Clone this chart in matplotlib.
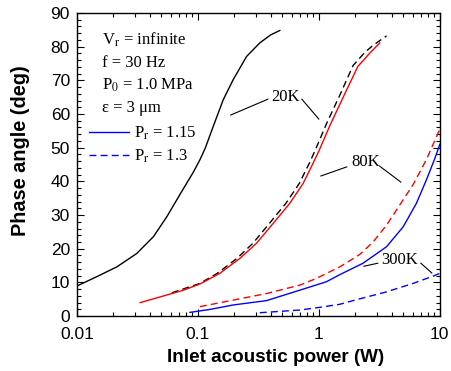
import matplotlib
matplotlib.use("Agg")
import matplotlib.pyplot as plt
from matplotlib.lines import Line2D

plt.rcParams['mathtext.fontset'] = 'stix'

# 20K curves (black)
k20_x_115 = [0.0100, 0.0146, 0.0214, 0.0313, 0.0430, 0.0554, 0.0714, 0.092, 0.104, 0.115,
             0.134, 0.162, 0.196, 0.253, 0.325, 0.400, 0.476]
k20_y_115 = [8.9, 11.7, 14.6, 18.6, 23.6, 29.5, 36.2, 42.8, 46.4, 49.8,
             56.3, 64.2, 70.2, 77.1, 81.1, 83.5, 84.8]
k20_x_13 = [0.061, 0.081, 0.104, 0.145, 0.21, 0.285, 0.39, 0.535, 0.69, 0.835, 0.94,
            1.17, 1.50, 1.92, 2.40, 2.81, 3.63]
k20_y_13 = [6.9, 8.4, 9.7, 12.7, 17.1, 21.6, 27.5, 33.5, 39.4, 45.4, 49.5,
            57.5, 65.8, 74.4, 78.3, 80.4, 83.2]

# 80K curves (red)
k80_x_115 = [0.0334, 0.0488, 0.0762, 0.105, 0.152, 0.222, 0.305, 0.419, 0.576, 0.742, 0.897,
             1.00, 1.25, 1.60, 2.10, 2.64, 3.19]
k80_y_115 = [4.0, 5.7, 7.7, 9.6, 12.7, 17.1, 21.6, 27.5, 33.5, 39.4, 45.4,
             49.0, 57.0, 65.2, 74.1, 78.1, 81.1]
k80_x_13 = [0.104, 0.196, 0.37, 0.697, 0.957, 1.49, 2.18, 2.81, 3.63, 4.67, 6.01, 7.76, 10.0]
k80_y_13 = [2.8, 4.75, 6.7, 9.2, 11.2, 14.6, 18.3, 22.0, 27.0, 33.0, 39.0, 46.5, 55.5]

# 300K curves (blue)
k300_x_115 = [0.086, 0.127, 0.196, 0.37, 0.697, 1.156, 1.49, 2.32, 3.63, 4.98, 6.41, 7.76, 9.1, 10.0]
k300_y_115 = [1.1, 2.0, 3.3, 4.6, 7.7, 10.2, 12.3, 15.7, 20.6, 26.5, 33.5, 40.5, 46.8, 51.0]
k300_x_13 = [0.325, 0.697, 1.02, 1.49, 1.92, 3.63, 6.01, 9.0, 10.0]
k300_y_13 = [1.0, 1.8, 2.6, 3.5, 4.6, 7.2, 9.7, 12.0, 12.7]

info_lines = [r"V$_\mathrm{r}$ = infinite", "f = 30 Hz", r"P$_\mathrm{0}$ = 1.0 MPa", "ε = 3 μm"]
legend_labels = [r"P$_\mathrm{r}$ = 1.15", r"P$_\mathrm{r}$ = 1.3"]

fig = plt.figure(figsize=(4.52, 3.71), dpi=100)
ax = fig.add_axes([0.170, 0.148, 0.803, 0.817])

dash = (0, (5, 3))
ax.plot(k20_x_115, k20_y_115, color='black', lw=1)
ax.plot(k20_x_13, k20_y_13, color='black', lw=1, ls=dash)
ax.plot(k80_x_115, k80_y_115, color='red', lw=1)
ax.plot(k80_x_13, k80_y_13, color='red', lw=1, ls=dash)
ax.plot(k300_x_115, k300_y_115, color='blue', lw=1)
ax.plot(k300_x_13, k300_y_13, color='blue', lw=1, ls=dash)

ax.set_xscale('log')
ax.set_xlim(0.01, 10)
ax.set_ylim(0, 90)
ax.set_yticks(range(0, 91, 10))
ax.set_yticks(range(0, 91, 2), minor=True)
ax.set_xticks([0.01, 0.1, 1, 10])
ax.set_xticklabels(['0.01', '0.1', '1', '10'])
ax.tick_params(which='both', direction='in', top=True, right=True,
               labelsize=12.5, width=0.8)
ax.tick_params(which='major', length=5)
ax.tick_params(which='minor', length=3)
ax.tick_params(axis='x', pad=8)
ax.tick_params(axis='y', pad=5)
for lab in ax.get_xticklabels() + ax.get_yticklabels():
    lab.set_family('Liberation Sans')
for s in ax.spines.values():
    s.set_linewidth(1.0)

ax.set_xlabel('Inlet acoustic power (W)', family='Liberation Sans',
              fontweight='bold', fontsize=13.6)
ax.set_ylabel('Phase angle (deg)', family='Liberation Sans',
              fontweight='bold', fontsize=14.3)
ax.xaxis.set_label_coords(0.548, -0.108)
ax.yaxis.set_label_coords(-0.13, 0.545)

for i, t in enumerate(info_lines):
    ax.text(0.069, 0.911 - i * 0.075, t, transform=ax.transAxes,
            family='Liberation Serif', fontsize=12, va='center')

handles = [Line2D([], [], color='blue', lw=1),
           Line2D([], [], color='blue', lw=1, ls=dash)]
ax.legend(handles, legend_labels, loc='upper left', bbox_to_anchor=(0.0, 0.67),
          frameon=False, prop={'family': 'Liberation Serif', 'size': 12},
          handlelength=2.4, handletextpad=0.3, labelspacing=0.35, borderaxespad=0.3)

# curve labels with leader lines
ax.text(0.534, 65, '20K', family='Liberation Serif', fontsize=12, ha='center', va='center')
ax.plot([0.379, 0.187], [64.4, 59.7], color='black', lw=0.8)
ax.plot([0.724, 1.0], [64.4, 58.5], color='black', lw=0.8)
ax.text(2.45, 45.7, '80K', family='Liberation Serif', fontsize=12, ha='center', va='center')
ax.plot([1.70, 1.04], [44.3, 41.6], color='black', lw=0.8)
ax.plot([3.19, 4.76], [44.5, 39.8], color='black', lw=0.8)
ax.text(4.67, 16.6, '300K', family='Liberation Serif', fontsize=12, ha='center', va='center')
ax.plot([3.07, 2.36], [15.7, 14.8], color='black', lw=0.8)
ax.plot([6.97, 8.59], [15.7, 12.8], color='black', lw=0.8)

fig.savefig('out.png', dpi=100)
